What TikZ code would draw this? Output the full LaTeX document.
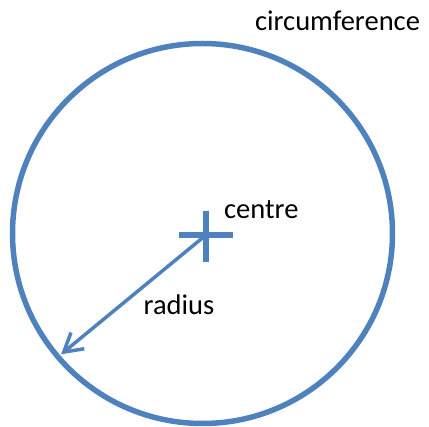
\documentclass[tikz,border=0pt]{standalone}
\usepackage{fontspec}
\setmainfont{Carlito}
\usepackage{tikz}
\usetikzlibrary{arrows.meta,calc}
\definecolor{rimblue}{RGB}{79,129,189}

\begin{document}
\begin{tikzpicture}[x=1pt, y=-1pt, every node/.style={font=\fontsize{28.5}{34}\selectfont, inner sep=0pt},
    rimline/.style={draw=rimblue, line width=5.5pt},
    radline/.style={draw=rimblue, line width=3.5pt, -{Straight Barb[length=18pt,width=21pt,line width=3.5pt]}}]
        \useasboundingbox (0,0) rectangle (429,427);
        % Circle
        \coordinate (mid) at (202.5,233.5);
        \draw[rimline] (mid) circle[radius=190];
        \node[anchor=base] (circ) at (337.5,31) {circumference};
        % Centre cross
        \coordinate (centre) at (206,235);
        \draw[rimline] ($(centre)+(-27,0)$) -- ($(centre)+(27,0)$);
        \draw[rimline] ($(centre)+(0,-24)$) -- ($(centre)+(0,27)$);
        \node[anchor=base] (ctext) at (261.3,218.3) {centre};
        % Radius
        \coordinate (rim) at ($(mid)+(220.5:186 and -186)$);
        \draw[radline] (centre) -- (rim);
        \node[anchor=base] (rtext) at (179,315) {radius};
    \end{tikzpicture}
\end{document}
